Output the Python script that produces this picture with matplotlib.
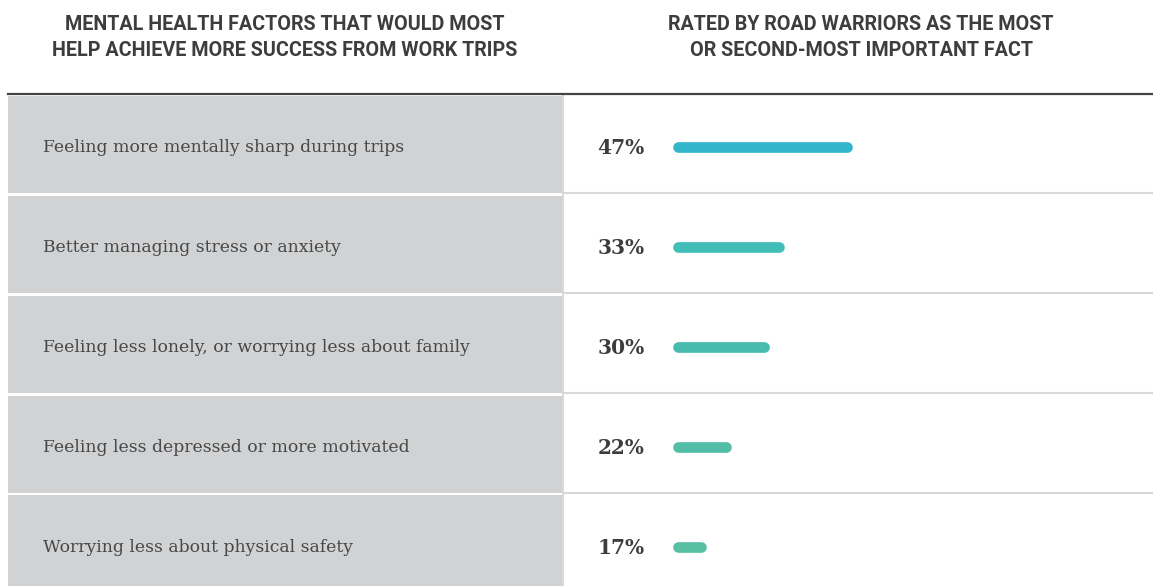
import numpy as np
import matplotlib.pyplot as plt
from matplotlib.lines import Line2D
import matplotlib.transforms as mtransforms

# --- data ---
factors = [
    "Feeling more mentally sharp during trips",
    "Better managing stress or anxiety",
    "Feeling less lonely, or worrying less about family",
    "Feeling less depressed or more motivated",
    "Worrying less about physical safety",
]
shares = [47, 33, 30, 22, 17]
bar_colors = ["#33b6cc", "#43bdb8", "#47bcae", "#52bea7", "#56bfa4"]
left_header = ["MENTAL HEALTH FACTORS THAT WOULD MOST",
               "HELP ACHIEVE MORE SUCCESS FROM WORK TRIPS"]
right_header = ["RATED BY ROAD WARRIORS AS THE MOST",
                "OR SECOND-MOST IMPORTANT FACT"]

W, H = 1153, 586
GRAY = "#d1d2d4"
DARK = "#3d3d3d"
RULE = "#d8d8d8"
BAR_BASE = 12.3  # where the rounded bars start, in value units

fig = plt.figure(figsize=(W / 100, H / 100), dpi=100)
fig.patch.set_facecolor("white")


def px(x0, y0, x1, y1):
    # pixel box -> figure fraction rect
    return [x0 / W, 1 - y1 / H, (x1 - x0) / W, (y1 - y0) / H]


n = len(factors)
rows = np.arange(n) + 0.5
ymax = (H - 94) / 100.0

# ── left column: gray cells with labels ─────────────────────────
ax_l = fig.add_axes(px(8, 94, 562, H))
ax_l.set_xlim(0, 1)
ax_l.set_ylim(ymax, 0)
ax_l.barh(rows, 1, height=0.97, left=0, color=GRAY, edgecolor="none")
for y, lab in zip(rows, factors):
    ax_l.text(0.063, y + 0.03, lab, ha="left", va="center",
              fontsize=12.4, family="DejaVu Serif", color="#474747")
ax_l.axis("off")

# ── right column: percentages and bars ──────────────────────────
ax_r = fig.add_axes(px(562, 94, W, H))
ax_r.set_xlim(-11.73, 110.18)
ax_r.set_ylim(ymax, 0)
for b in range(1, n):
    ax_r.axhline(b - 0.01, color=RULE, lw=1.5)
ax_r.axvline(-11.73, color=RULE, lw=2)
ax_r.hlines(rows + 0.03, BAR_BASE, shares, colors=bar_colors,
            linewidth=7.7, capstyle="round")
trans = mtransforms.blended_transform_factory(ax_r.transAxes, ax_r.transData)
for y, v in zip(rows, shares):
    ax_r.text(0.06, y + 0.04, f"{v}%", transform=trans, ha="left", va="center",
              fontsize=14.5, fontweight="bold", family="DejaVu Serif", color=DARK)
ax_r.axis("off")

# ── headers and top rule ────────────────────────────────────────
for i, line in enumerate(left_header):
    fig.text(285 / W, 1 - (24 + 27 * i) / H, line, ha="center", va="center",
             fontsize=14.2, fontweight="bold", family="Roboto", color=DARK)
for i, line in enumerate(right_header):
    fig.text(861 / W, 1 - (24 + 27 * i) / H, line, ha="center", va="center",
             fontsize=14.2, fontweight="bold", family="Roboto", color=DARK)

fig.add_artist(Line2D([8 / W, 1], [1 - 94 / H, 1 - 94 / H],
                      transform=fig.transFigure, color="#444444", lw=1.6))

fig.savefig("out.png", dpi=100)
